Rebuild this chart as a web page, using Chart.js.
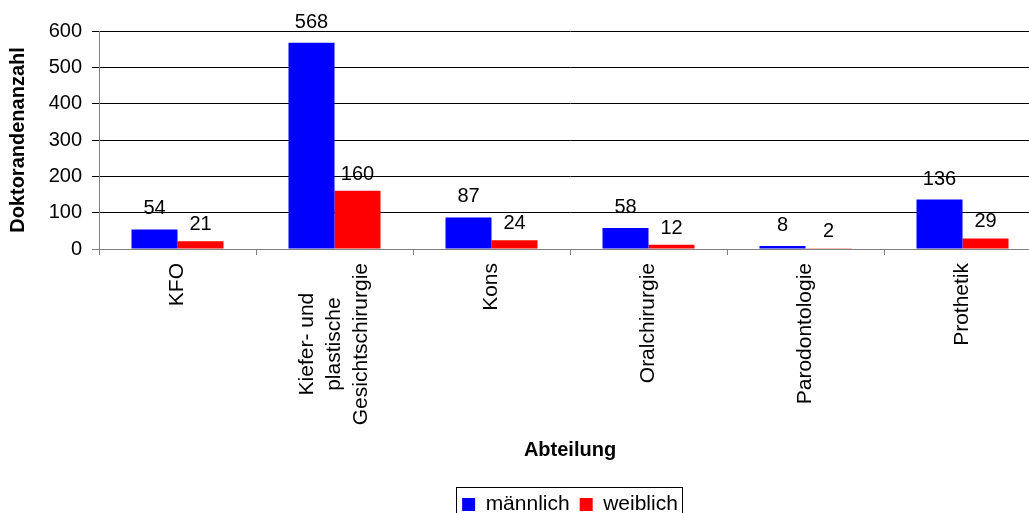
<!DOCTYPE html>
<html lang="de">
<head>
  <meta charset="UTF-8">
  <title>Doktoranden nach Abteilung</title>
  <style>
    html, body { margin: 0; padding: 0; background: #fff; overflow: hidden; }
    #wrap { position: relative; width: 1100px; height: 525px; }
  </style>
</head>
<body>
  <div id="wrap">
    <canvas id="myChart"></canvas>
  </div>

  <script src="https://cdn.jsdelivr.net/npm/chart.js"></script>
  <script>
    const categories = ['KFO', ['Kiefer- und', 'plastische', 'Gesichtschirurgie'], 'Kons', 'Oralchirurgie', 'Parodontologie', 'Prothetik'];
    const maleValues = [54, 568, 87, 58, 8, 136];
    const femaleValues = [21, 160, 24, 12, 2, 29];
    const yMin = 0;
    const yMax = 600;
    const yStep = 100;

    const FONT = "'Liberation Sans', Arial, sans-serif";
    Chart.defaults.font.family = FONT;
    Chart.defaults.color = '#000';

    // value labels above the bars
    const valueLabels = {
      id: 'valueLabels',
      afterDatasetsDraw(chart) {
        const ctx = chart.ctx;
        ctx.save();
        ctx.font = '20px ' + FONT;
        ctx.fillStyle = '#000';
        ctx.textAlign = 'center';
        ctx.textBaseline = 'alphabetic';
        chart.data.datasets.forEach((ds, i) => {
          const gap = i === 0 ? 15 : 11;
          chart.getDatasetMeta(i).data.forEach((bar, j) => {
            ctx.fillText(String(ds.data[j]), bar.x, bar.y - gap);
          });
        });
        ctx.restore();
      }
    };

    // rotated category labels, lines centred like in the original
    const categoryLabels = {
      id: 'categoryLabels',
      afterDraw(chart) {
        const ctx = chart.ctx;
        const xs = chart.scales.x;
        const lh = 27;
        ctx.save();
        ctx.font = '21px ' + FONT;
        ctx.fillStyle = '#000';
        ctx.textAlign = 'center';
        ctx.textBaseline = 'middle';
        categories.forEach((cat, i) => {
          const lines = Array.isArray(cat) ? cat : [cat];
          const maxW = Math.max(...lines.map(l => ctx.measureText(l).width));
          const x = xs.getPixelForValue(i);
          ctx.save();
          ctx.translate(x, xs.top + 14 + maxW / 2);
          ctx.rotate(-Math.PI / 2);
          lines.forEach((l, k) => {
            ctx.fillText(l, 0, (k - (lines.length - 1) / 2) * lh);
          });
          ctx.restore();
        });
        ctx.restore();
      }
    };

    // frame round the legend
    const legendFrame = {
      id: 'legendFrame',
      afterDraw(chart) {
        const boxes = chart.legend && chart.legend.legendHitBoxes;
        if (!boxes || !boxes.length) return;
        const first = boxes[0];
        const last = boxes[boxes.length - 1];
        const ctx = chart.ctx;
        const left = Math.round(first.left - 6) + 0.5;
        const top = Math.round(first.top - 7) + 0.5;
        const right = Math.round(last.left + last.width + 4) + 0.5;
        const bottom = Math.round(first.top + first.height + 7) + 0.5;
        ctx.save();
        ctx.strokeStyle = '#000';
        ctx.lineWidth = 1;
        ctx.strokeRect(left, top, right - left, bottom - top);
        ctx.restore();
      }
    };

    const ctx = document.getElementById('myChart');
    const myChart = new Chart(ctx, {
      type: 'bar',
      data: {
        labels: categories,
        datasets: [{
          label: 'männlich',
          data: maleValues,
          backgroundColor: '#0000ff',
          borderWidth: 0
        }, {
          label: 'weiblich',
          data: femaleValues,
          backgroundColor: '#ff0000',
          borderWidth: 0
        }]
      },
      options: {
        responsive: true,
        maintainAspectRatio: false,
        animation: false,
        categoryPercentage: 0.586,
        barPercentage: 1,
        layout: { padding: { top: 31, right: 59, left: 0, bottom: 0 } },
        plugins: {
          tooltip: { enabled: false },
          legend: {
            position: 'bottom',
            fullSize: false,
            labels: {
              boxWidth: 13,
              boxHeight: 13,
              padding: 10,
              font: { size: 21 },
              color: '#000'
            }
          }
        },
        scales: {
          x: {
            grid: {
              drawOnChartArea: false,
              color: '#808080',
              tickLength: 6
            },
            border: { color: '#808080' },
            ticks: { display: false },
            title: {
              display: true,
              text: 'Abteilung',
              font: { size: 20, weight: 'bold' },
              padding: { top: 0, bottom: 22 }
            },
            afterFit(scale) { scale.height = 235; }
          },
          y: {
            min: yMin,
            max: yMax,
            ticks: {
              stepSize: yStep,
              padding: 10,
              font: { size: 20 }
            },
            grid: {
              color: c => (c.tick && c.tick.value === 0 ? '#808080' : '#000'),
              tickLength: 7
            },
            border: { color: '#808080' },
            title: {
              display: true,
              text: 'Doktorandenanzahl',
              font: { size: 20, weight: 'bold' },
              padding: { top: 6, bottom: 0 }
            },
            afterFit(scale) { scale.width = 99; }
          }
        }
      },
      plugins: [valueLabels, categoryLabels, legendFrame]
    });
  </script>
</body>
</html>
